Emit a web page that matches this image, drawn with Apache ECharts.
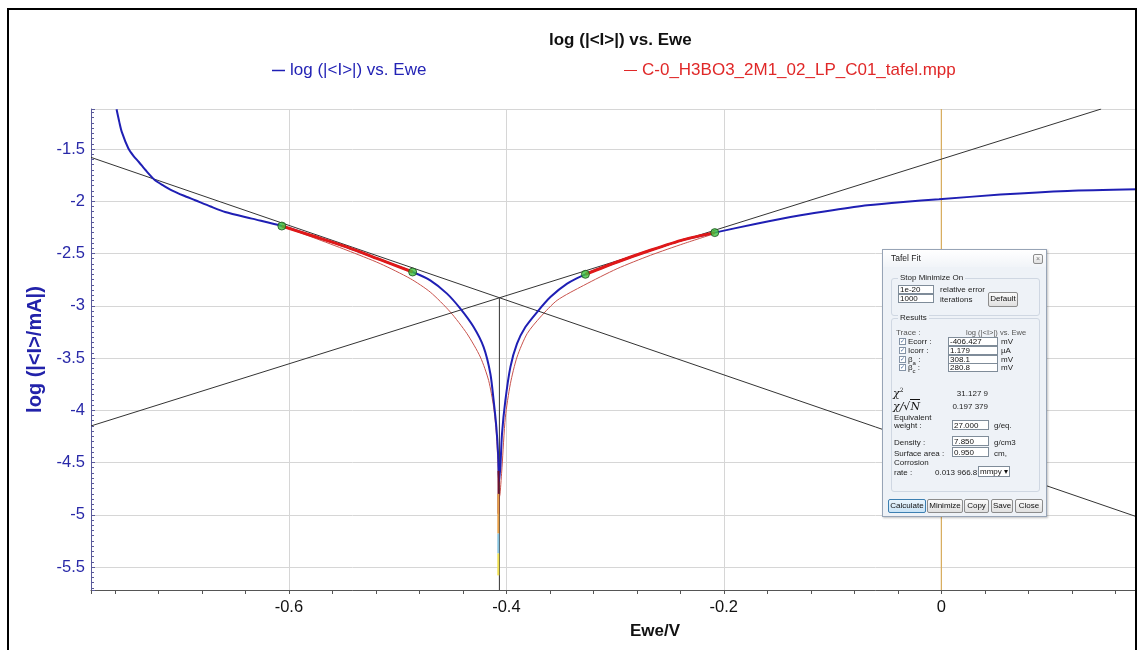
<!DOCTYPE html>
<html>
<head>
<meta charset="utf-8">
<title>log (|&lt;I&gt;|) vs. Ewe</title>
<script src="https://cdn.jsdelivr.net/npm/echarts@6/dist/echarts.min.js"></script>
<style>
body{margin:0;background:#fff;}
#main{position:absolute;left:0;top:0;width:1137px;height:650px;}
#frame{position:absolute;left:7px;top:8px;width:1126px;height:700px;border:2px solid #000;pointer-events:none;}
#dlg{position:absolute;left:882px;top:249px;width:165px;height:268px;background:#eef2f7;border:1px solid #97a4b6;box-sizing:border-box;
     font-family:'Liberation Sans',Arial,sans-serif;box-shadow:1px 1px 2px rgba(0,0,0,.25);}
#dlg sub,#dlg sup{line-height:0;}
#dlg .bar{position:absolute;left:0;top:0;right:0;height:17px;background:linear-gradient(#ffffff,#f1f4f8);}
#dlg .t{position:absolute;font-size:8px;line-height:9px;color:#222;white-space:nowrap;}
#dlg .in{position:absolute;background:#fff;border:1px solid #7f8c99;font-size:8px;line-height:8px;padding-left:1px;box-sizing:border-box;color:#111;white-space:nowrap;}
#dlg .btn{position:absolute;border:1px solid #8c8c8c;border-radius:2px;background:linear-gradient(#fbfbfb,#e0e0e0);font-size:8px;line-height:12px;text-align:center;box-sizing:border-box;color:#111;}
#dlg .cb{position:absolute;width:7px;height:7px;border:1px solid #8493a6;background:#fff;box-sizing:border-box;font-size:6px;line-height:5px;color:#4a6a9a;text-align:center;}
#dlg .grp{position:absolute;border:1px solid #cfd7e2;border-radius:3px;}
#dlg .chi{position:absolute;font-family:'DejaVu Serif',serif;font-style:italic;font-size:11px;line-height:11px;color:#111;white-space:nowrap;}
</style>
</head>
<body>
<div id="main"></div>
<div id="frame"></div>

<div id="dlg">
  <div class="bar"></div>
  <div class="t" style="left:8px;top:4px;font-size:8.5px;">Tafel Fit</div>
  <div class="btn" style="left:150px;top:4px;width:10px;height:10px;line-height:8px;font-size:7px;color:#777;">&#215;</div>

  <div class="grp" style="left:8px;top:28px;width:147px;height:36px;"></div>
  <div class="t" style="left:15px;top:23px;background:#eef2f7;padding:0 2px;">Stop Minimize On</div>
  <div class="in" style="left:15px;top:35px;width:36px;height:9px;">1e-20</div>
  <div class="t" style="left:57px;top:35px;">relative error</div>
  <div class="in" style="left:15px;top:44px;width:36px;height:9px;">1000</div>
  <div class="t" style="left:57px;top:45px;">iterations</div>
  <div class="btn" style="left:105px;top:42px;width:30px;height:15px;">Default</div>

  <div class="grp" style="left:8px;top:68px;width:147px;height:172px;"></div>
  <div class="t" style="left:15px;top:63px;background:#eef2f7;padding:0 2px;">Results</div>
  <div class="t" style="left:13px;top:78px;color:#555;">Trace :</div>
  <div class="t" style="left:83px;top:78px;color:#555;font-size:7.5px;">log (|&lt;I&gt;|) vs. Ewe</div>

  <div class="cb" style="left:16px;top:88px;">&#10003;</div>
  <div class="t" style="left:25px;top:87px;">Ecorr :</div>
  <div class="in" style="left:65px;top:87px;width:50px;height:9px;">-406.427</div>
  <div class="t" style="left:118px;top:87px;">mV</div>

  <div class="cb" style="left:16px;top:97px;">&#10003;</div>
  <div class="t" style="left:25px;top:96px;">Icorr :</div>
  <div class="in" style="left:65px;top:96px;width:50px;height:9px;">1.179</div>
  <div class="t" style="left:118px;top:96px;">&#181;A</div>

  <div class="cb" style="left:16px;top:105.5px;">&#10003;</div>
  <div class="t" style="left:25px;top:104.5px;">&#946;<sub style="font-size:6px;">a</sub> :</div>
  <div class="in" style="left:65px;top:104.5px;width:50px;height:9px;">308.1</div>
  <div class="t" style="left:118px;top:104.5px;">mV</div>

  <div class="cb" style="left:16px;top:114px;">&#10003;</div>
  <div class="t" style="left:25px;top:113px;">&#946;<sub style="font-size:6px;">c</sub> :</div>
  <div class="in" style="left:65px;top:113px;width:50px;height:9px;">280.8</div>
  <div class="t" style="left:118px;top:113px;">mV</div>

  <div class="chi" style="left:10px;top:138px;">&#967;<sup style="font-size:6px;font-style:normal;">2</sup></div>
  <div class="t" style="left:60px;top:139px;width:45px;text-align:right;">31.127 9</div>
  <div class="chi" style="left:10px;top:151px;">&#967;/&#8730;<span style="border-top:1px solid #111;">N</span></div>
  <div class="t" style="left:60px;top:152px;width:45px;text-align:right;">0.197 379</div>

  <div class="t" style="left:11px;top:163px;">Equivalent</div>
  <div class="t" style="left:11px;top:171px;">weight :</div>
  <div class="in" style="left:69px;top:170px;width:37px;height:10px;line-height:9px;">27.000</div>
  <div class="t" style="left:111px;top:171px;">g/eq.</div>

  <div class="t" style="left:11px;top:188px;">Density :</div>
  <div class="in" style="left:69px;top:186px;width:37px;height:10px;line-height:9px;">7.850</div>
  <div class="t" style="left:111px;top:188px;">g/cm3</div>

  <div class="t" style="left:11px;top:199px;">Surface area :</div>
  <div class="in" style="left:69px;top:197px;width:37px;height:10px;line-height:9px;">0.950</div>
  <div class="t" style="left:111px;top:199px;">cm,</div>

  <div class="t" style="left:11px;top:208px;">Corrosion</div>
  <div class="t" style="left:11px;top:218px;">rate :</div>
  <div class="t" style="left:52px;top:218px;">0.013 966.8</div>
  <div class="in" style="left:95px;top:216px;width:32px;height:11px;line-height:10px;">mmpy &#9662;</div>

  <div class="btn" style="left:5px;top:249px;width:38px;height:14px;background:linear-gradient(#eaf5fd,#c9e3f6);border-color:#3c7fb1;">Calculate</div>
  <div class="btn" style="left:44px;top:249px;width:36px;height:14px;">Minimize</div>
  <div class="btn" style="left:81px;top:249px;width:25px;height:14px;">Copy</div>
  <div class="btn" style="left:108px;top:249px;width:22px;height:14px;">Save</div>
  <div class="btn" style="left:132px;top:249px;width:28px;height:14px;">Close</div>
</div>

<script type="text/javascript">
    var blueName = 'log (|<I>|) vs. Ewe';
    var redName = 'C-0_H3BO3_2M1_02_LP_C01_tafel.mpp';

    // measured curve, Ewe (V) / log|I| (mA)
    var measured = [
        [-0.7585, -1.12], [-0.7560, -1.24], [-0.7537, -1.336], [-0.7476, -1.495], [-0.7430, -1.565],
        [-0.738, -1.624], [-0.7310, -1.712], [-0.7231, -1.799], [-0.7150, -1.852], [-0.7077, -1.895],
        [-0.6970, -1.945], [-0.6862, -1.990], [-0.6720, -2.050], [-0.6586, -2.102], [-0.6341, -2.166],
        [-0.6065, -2.237], [-0.577, -2.335], [-0.547, -2.437], [-0.516, -2.559], [-0.4862, -2.677],
        [-0.47, -2.757], [-0.4546, -2.884], [-0.4423, -3.028], [-0.4301, -3.204], [-0.4209, -3.396],
        [-0.4147, -3.650], [-0.4117, -3.906], [-0.4092, -4.162], [-0.4076, -4.417], [-0.4068, -4.68],
        [-0.4062, -4.62], [-0.4055, -4.545], [-0.404, -4.225], [-0.4009, -3.906], [-0.3963, -3.587],
        [-0.3902, -3.363], [-0.3825, -3.204], [-0.3717, -3.060], [-0.3595, -2.917], [-0.3441, -2.788],
        [-0.3273, -2.699], [-0.2981, -2.581], [-0.2675, -2.469], [-0.2368, -2.367], [-0.2083, -2.300],
        [-0.1700, -2.215], [-0.1294, -2.134], [-0.100, -2.085], [-0.068, -2.038], [-0.035, -2.006],
        [-0.0021, -1.981], [0.0545, -1.936], [0.1161, -1.901], [0.1805, -1.885]
    ];

    // points used by the fit (thick red)
    var fitPoints = [
        [-0.6065, -2.237], [-0.577, -2.335], [-0.547, -2.437], [-0.516, -2.559], [-0.4862, -2.677],
        null,
        [-0.3273, -2.699], [-0.2981, -2.581], [-0.2675, -2.469], [-0.2368, -2.367], [-0.2083, -2.300]
    ];

    // fitted curve (thin red)
    var fitCurve = [
        [-0.6065, -2.237], [-0.5774, -2.348], [-0.5466, -2.469], [-0.516, -2.597], [-0.4884, -2.740],
        [-0.47, -2.869], [-0.4515, -3.060], [-0.4362, -3.267], [-0.4239, -3.491], [-0.4163, -3.715],
        [-0.4117, -3.970], [-0.4092, -4.225], [-0.4076, -4.545], [-0.4068, -4.85],
        [-0.4058, -4.80], [-0.404, -4.545], [-0.4009, -4.066], [-0.3963, -3.746], [-0.3902, -3.491],
        [-0.3809, -3.267], [-0.3687, -3.108], [-0.3533, -2.948], [-0.3289, -2.805], [-0.2981, -2.645],
        [-0.2675, -2.517], [-0.2368, -2.405], [-0.2083, -2.309]
    ];

    var fitLimits = [[-0.6065, -2.237], [-0.4862, -2.677], [-0.3273, -2.699], [-0.2083, -2.300]];

    var cathodicLine = [[-0.782, -1.58], [0.18, -5.02]];
    var anodicLine = [[-0.782, -4.15], [0.147, -1.117]];
    var ecorrLine = [[-0.4064, -2.928], [-0.4064, -5.72]];
    var zeroLine = [[0, -5.72], [0, -1.117]];

    // coloured pieces at the bottom of the cusp
    var cuspDark = [[-0.4072, -4.58], [-0.4072, -4.99]];
    var cuspOrange = [[-0.4074, -4.80], [-0.4074, -5.18]];
    var cuspCyan = [[-0.4074, -5.18], [-0.4074, -5.37]];
    var cuspYellow = [[-0.4074, -5.37], [-0.4074, -5.58]];

    var xMin = -0.782, xMax = 0.18;
    var yMin = -5.72, yMax = -1.117;

    var font = "'Liberation Sans', Arial, sans-serif";

    function seg(data, color, width, z) {
        return {type: 'line', data: data, showSymbol: false, symbol: 'none', silent: true, z: z || 2,
                lineStyle: {color: color, width: width}, itemStyle: {color: color}};
    }

    var myChart = echarts.init(document.getElementById('main'));
    myChart.setOption({
        animation: false,
        textStyle: {fontFamily: font},
        title: {
            text: 'log (|<I>|) vs. Ewe',
            left: 549, top: 32, padding: 0,
            textStyle: {fontSize: 17, fontWeight: 'bold', color: '#111', fontFamily: font}
        },
        legend: [{
            data: [blueName], left: 272, top: 62, padding: 0,
            icon: 'rect', itemWidth: 13, itemHeight: 1.5,
            textStyle: {color: '#2323b5', fontSize: 17, fontFamily: font}
        }, {
            data: [redName], left: 624, top: 62, padding: 0,
            icon: 'rect', itemWidth: 13, itemHeight: 1,
            textStyle: {color: '#e02828', fontSize: 17, fontFamily: font}
        }],
        grid: {left: 91, right: 0, top: 109, bottom: 60},
        xAxis: {
            type: 'value', min: xMin, max: xMax, splitNumber: 5,
            name: 'Ewe/V', nameLocation: 'middle', nameGap: 33,
            nameTextStyle: {fontWeight: 'bold', fontSize: 17, color: '#111', padding: [0, 0, 0, 82]},
            axisLine: {onZero: false, lineStyle: {color: '#555'}},
            axisTick: {length: 4, lineStyle: {color: '#555'}},
            minorTick: {show: true, splitNumber: 5, length: 4, lineStyle: {color: '#555'}},
            axisLabel: {color: '#111', fontSize: 16.5, margin: 9, showMinLabel: false, showMaxLabel: false},
            splitLine: {lineStyle: {color: '#d6d6d6'}}
        },
        yAxis: {
            type: 'value', min: yMin, max: yMax, splitNumber: 9,
            name: 'log (|<I>/mA|)', nameLocation: 'middle', nameGap: 41,
            nameTextStyle: {fontWeight: 'bold', fontSize: 20, color: '#2222aa'},
            axisLine: {show: true, onZero: false, lineStyle: {color: '#5a5a9a'}},
            axisTick: {show: true, inside: true, length: 4, lineStyle: {color: '#5a5a9a'}},
            minorTick: {show: true, splitNumber: 10, length: 3, lineStyle: {color: '#5a5a9a'}},
            axisLabel: {color: '#2828a8', fontSize: 16.5, margin: 6, showMinLabel: false, showMaxLabel: false},
            splitLine: {lineStyle: {color: '#d6d6d6'}}
        },
        series: [
            seg(zeroLine, '#d9a441', 1, 1),
            {
                name: redName, type: 'line', data: fitCurve, showSymbol: false, symbol: 'none', z: 2,
                smooth: 0.25,
                lineStyle: {color: '#c8524c', width: 1}, itemStyle: {color: '#e02828'}
            },
            seg(cathodicLine, '#333', 1, 3),
            seg(anodicLine, '#333', 1, 3),
            seg(ecorrLine, '#333', 1, 3),
            {
                name: blueName, type: 'line', data: measured, showSymbol: false, symbol: 'none', z: 4,
                smooth: 0.25,
                lineStyle: {color: '#1f1fb4', width: 2}, itemStyle: {color: '#1f1fb4'}
            },
            seg(cuspDark, '#6e1030', 2, 5),
            seg(cuspOrange, '#e8a048', 2, 5),
            seg(cuspCyan, '#88c4e0', 2, 5),
            seg(cuspYellow, '#f0e050', 2, 5),
            {
                type: 'line', data: fitPoints, showSymbol: false, symbol: 'none', connectNulls: false,
                z: 6, silent: true, smooth: 0.25,
                lineStyle: {color: '#e01818', width: 3}, itemStyle: {color: '#e01818'}
            },
            {
                type: 'scatter', data: fitLimits, symbolSize: 8, z: 8, silent: true,
                itemStyle: {color: '#3ec43e', borderColor: '#1f4f1f', borderWidth: 1}
            }
        ]
    });
</script>
</body>
</html>
